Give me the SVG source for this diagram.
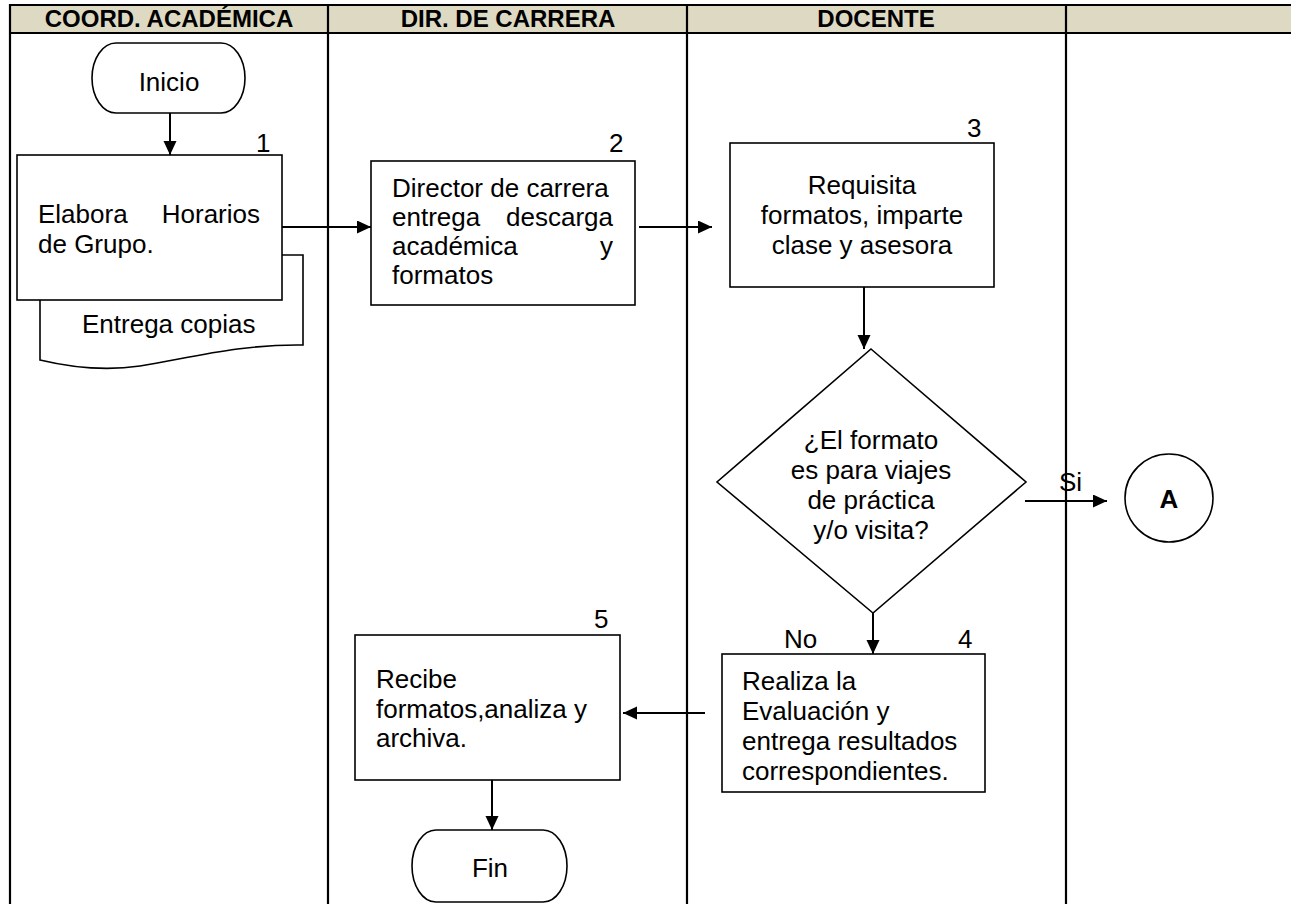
<svg xmlns="http://www.w3.org/2000/svg" width="1291" height="904" viewBox="0 0 1291 904">
<defs>
<style>
.t{font-family:"Liberation Sans",Arial,sans-serif;font-size:26px;fill:#000}
.h{font-family:"Liberation Sans",Arial,sans-serif;font-size:24px;font-weight:bold;fill:#000;text-anchor:middle}
.c{text-anchor:middle}
.e{text-anchor:end}
.box{fill:#fff;stroke:#000;stroke-width:1.6}
.ln{stroke:#000;stroke-width:2.2;fill:none}
.conn{stroke:#000;stroke-width:2;fill:none;marker-end:url(#ah)}
</style>
<marker id="ah" markerUnits="userSpaceOnUse" markerWidth="15" markerHeight="14" refX="14" refY="6.5" orient="auto">
<path d="M0,0 L14,6.5 L0,13 z" fill="#000"/>
</marker>
</defs>
<rect width="1291" height="904" fill="#fff"/>
<g id="table">
<rect x="10" y="5" width="1281" height="28" fill="#DDD9C3"/>
<line class="ln" x1="10" y1="5" x2="1291" y2="5" stroke-width="3"/>
<line class="ln" x1="10" y1="33" x2="1291" y2="33" stroke-width="3"/>
<line class="ln" x1="10" y1="4" x2="10" y2="904"/>
<line class="ln" x1="328" y1="4" x2="328" y2="904"/>
<line class="ln" x1="687" y1="4" x2="687" y2="904"/>
<line class="ln" x1="1066" y1="4" x2="1066" y2="904"/>
<text class="h" x="169" y="27">COORD. ACADÉMICA</text>
<text class="h" x="508" y="27">DIR. DE CARRERA</text>
<text class="h" x="876" y="27">DOCENTE</text>
</g>
<g id="connectors">
<line class="conn" x1="170" y1="113" x2="170" y2="155"/>
<line class="conn" x1="282" y1="227" x2="371" y2="227"/>
<line class="conn" x1="639" y1="227" x2="712" y2="227"/>
<line class="conn" x1="864" y1="287" x2="864" y2="349"/>
<line class="conn" x1="873" y1="613" x2="873" y2="654"/>
<line class="conn" x1="1025" y1="501" x2="1107" y2="501"/>
<line class="conn" x1="705" y1="713" x2="623" y2="713"/>
<line class="conn" x1="492" y1="780" x2="492" y2="830"/>
<text class="t" x="1059" y="491">Si</text>
<text class="t" x="784" y="648">No</text>
</g>
<g id="inicio">
<rect x="92" y="43" width="153" height="70" rx="24" ry="35" class="box"/>
<text class="t c" x="169" y="91">Inicio</text>
</g>
<g id="step1">
<path class="box" d="M282,255 H303 V345 C240,344 190,358 140,366 C100,372 65,366 40,360 V300"/>
<rect x="17" y="155" width="265" height="145" class="box"/>
<text class="t" x="256" y="152">1</text>
<text class="t" x="38" y="223">Elabora</text>
<text class="t e" x="260" y="223">Horarios</text>
<text class="t" x="38" y="253">de Grupo.</text>
<text class="t" x="82" y="333">Entrega copias</text>
</g>
<g id="step2">
<rect x="371" y="161" width="264" height="144" class="box"/>
<text class="t" x="609" y="152">2</text>
<text class="t" x="392" y="197">Director de carrera</text>
<text class="t" x="392" y="226">entrega</text>
<text class="t e" x="613" y="226">descarga</text>
<text class="t" x="392" y="255">académica</text>
<text class="t e" x="613" y="255">y</text>
<text class="t" x="392" y="284">formatos</text>
</g>
<g id="step3">
<rect x="730" y="143" width="264" height="144" class="box"/>
<text class="t" x="967" y="137">3</text>
<text class="t c" x="862" y="194">Requisita</text>
<text class="t c" x="862" y="224">formatos, imparte</text>
<text class="t c" x="862" y="254">clase y asesora</text>
</g>
<g id="decision">
<polygon class="box" points="871,349 1026,482 873,613 717,482"/>
<text class="t c" x="871" y="449">¿El formato</text>
<text class="t c" x="871" y="479">es para viajes</text>
<text class="t c" x="871" y="509">de práctica</text>
<text class="t c" x="871" y="539">y/o visita?</text>
</g>
<g id="connA">
<circle cx="1169" cy="498" r="44" class="box"/>
<text class="t c" x="1169" y="508" font-weight="bold" font-size="28">A</text>
</g>
<g id="step4">
<rect x="722" y="654" width="263" height="138" class="box"/>
<text class="t" x="958" y="648">4</text>
<text class="t" x="742" y="690">Realiza la</text>
<text class="t" x="742" y="720">Evaluación y</text>
<text class="t" x="742" y="750">entrega resultados</text>
<text class="t" x="742" y="780">correspondientes.</text>
</g>
<g id="step5">
<rect x="355" y="635" width="265" height="145" class="box"/>
<text class="t" x="594" y="628">5</text>
<text class="t" x="376" y="688">Recibe</text>
<text class="t" x="376" y="718">formatos,analiza y</text>
<text class="t" x="376" y="747">archiva.</text>
</g>
<g id="fin">
<rect x="412" y="830" width="155" height="72" rx="24" ry="36" class="box"/>
<text class="t c" x="490" y="877">Fin</text>
</g>
</svg>
